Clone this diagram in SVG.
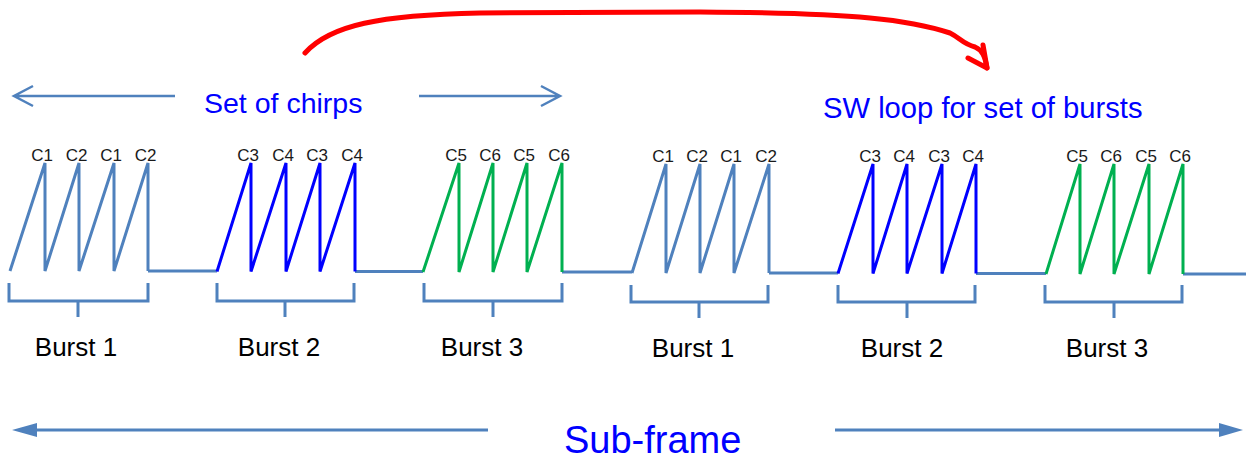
<svg xmlns="http://www.w3.org/2000/svg" width="1246" height="459" viewBox="0 0 1246 459">
<style>
text{font-family:"Liberation Sans",Arial,sans-serif}
.c{font-size:17px;fill:#1a1a1a;text-anchor:middle}
.b{font-size:26px;fill:#000;text-anchor:middle}
.t{font-size:28.5px;fill:#0000ff}
.sb{fill:none;stroke:#4f81bd;stroke-width:3;stroke-linejoin:miter}
.bl{fill:none;stroke:#0000ff;stroke-width:3}
.gr{fill:none;stroke:#00b050;stroke-width:3}
.ar{fill:none;stroke:#4f81bd;stroke-width:2.5}
.hd{fill:#4f81bd}
</style>
<rect width="1246" height="459" fill="#fff"/>
<g id="connectors">
<path id="red-loop" d="M305,53 C330,25 380,15 480,13 L700,12 C860,13 910,20 950,33 C960,38 963,44 975,47 C982,50 985,56 987,68" fill="none" stroke="#ff0000" stroke-width="5" stroke-linecap="round"/>
<path d="M983,45 L987,68 L968,58" fill="none" stroke="#ff0000" stroke-width="5" stroke-linecap="round" stroke-linejoin="round"/>
<path class="ar" d="M175,96 H14 M33,86 L14,96 L33,106"/>
<path class="ar" d="M419,96 H560 M541,86 L560,96 L541,106"/>
<path class="sb" d="M488,430 H32"/>
<polygon class="hd" points="12,430 37,423 37,437"/>
<path class="sb" d="M835,430 H1222"/>
<polygon class="hd" points="1243,430 1219,423 1219,437"/>
</g>
<g id="flats">
<path class="sb" d="M148,271 H217 M355,271.5 H423 M562,272 H632 M769,273 H838 M976,273.5 H1046 M1183,274 H1246"/>
</g>
<g id="burst1a">
<path class="sb" d="M10,271 L45,163 V271 L79,163 V271 L114,163 V271 L148,163 V271"/>
<text class="c" x="42" y="161">C1</text><text class="c" x="76.5" y="161">C2</text><text class="c" x="111" y="161">C1</text><text class="c" x="145.5" y="161">C2</text>
<path class="sb" d="M9,283 V301 H148 V283 M78,301 V317"/>
<text class="b" x="76" y="356">Burst 1</text>
</g>
<g id="burst2a">
<path class="bl" d="M217,271.5 L251,163 V271.5 L286,163 V271.5 L320,163 V271.5 L355,163 V271.5"/>
<text class="c" x="248" y="161">C3</text><text class="c" x="283" y="161">C4</text><text class="c" x="317" y="161">C3</text><text class="c" x="352" y="161">C4</text>
<path class="sb" d="M217,283 V301 H354 V283 M285,301 V317"/>
<text class="b" x="279" y="356">Burst 2</text>
</g>
<g id="burst3a">
<path class="gr" d="M423,272 L459,163 V272 L493,163 V272 L527,163 V272 L562,163 V272"/>
<text class="c" x="456" y="161">C5</text><text class="c" x="490" y="161">C6</text><text class="c" x="524" y="161">C5</text><text class="c" x="559" y="161">C6</text>
<path class="sb" d="M424,283 V301 H562 V283 M493,301 V317"/>
<text class="b" x="482" y="356">Burst 3</text>
</g>
<g id="burst1b">
<path class="sb" d="M632,273 L666,164 V273 L700,164 V273 L734,164 V273 L769,164 V273"/>
<text class="c" x="663" y="162">C1</text><text class="c" x="697" y="162">C2</text><text class="c" x="731" y="162">C1</text><text class="c" x="766" y="162">C2</text>
<path class="sb" d="M631,285 V302 H768 V285 M699,302 V318"/>
<text class="b" x="693" y="357">Burst 1</text>
</g>
<g id="burst2b">
<path class="bl" d="M838,273.5 L873,164 V273.5 L907,164 V273.5 L942,164 V273.5 L976,164 V273.5"/>
<text class="c" x="870" y="162">C3</text><text class="c" x="904" y="162">C4</text><text class="c" x="939" y="162">C3</text><text class="c" x="973" y="162">C4</text>
<path class="sb" d="M838,285 V302 H975 V285 M907,302 V318"/>
<text class="b" x="902" y="357">Burst 2</text>
</g>
<g id="burst3b">
<path class="gr" d="M1046,274 L1080,164 V274 L1114,164 V274 L1149,164 V274 L1183,164 V274"/>
<text class="c" x="1077" y="162">C5</text><text class="c" x="1111" y="162">C6</text><text class="c" x="1146" y="162">C5</text><text class="c" x="1180" y="162">C6</text>
<path class="sb" d="M1045,285 V302 H1182 V285 M1114,302 V318"/>
<text class="b" x="1107" y="357">Burst 3</text>
</g>
<g id="labels">
<text class="t" x="204" y="113">Set of chirps</text>
<text class="t" x="823" y="118" style="font-size:29.2px">SW loop for set of bursts</text>
<text x="564" y="453" style="font-size:38px;fill:#0000ff">Sub-frame</text>
</g>
</svg>
